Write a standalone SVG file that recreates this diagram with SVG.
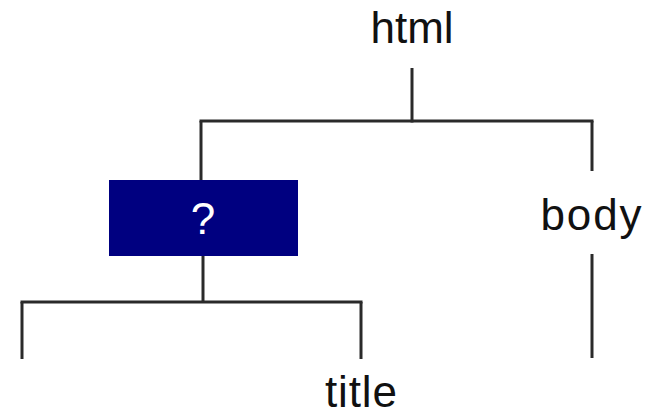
<svg xmlns="http://www.w3.org/2000/svg" width="649" height="411" viewBox="0 0 649 411">
<style>
.lbl{font-family:"Liberation Sans",Arial,Helvetica,sans-serif;font-size:44px;fill:#111;text-anchor:middle}
.c line{stroke:#2a2a2a;stroke-width:3;stroke-linecap:butt}
</style>
<rect width="649" height="411" fill="#fff"/>
<g class="c" id="connectors">
<line x1="412" y1="68" x2="412" y2="122.5"/>
<line x1="199.5" y1="121" x2="593.5" y2="121"/>
<line x1="201" y1="121" x2="201" y2="181"/>
<line x1="592" y1="121" x2="592" y2="171"/>
<line x1="203" y1="256" x2="203" y2="302"/>
<line x1="20.5" y1="302" x2="362.5" y2="302"/>
<line x1="22" y1="302" x2="22" y2="359"/>
<line x1="361" y1="302" x2="361" y2="359"/>
<line x1="592" y1="254" x2="592" y2="358"/>
</g>
<g id="html"><text class="lbl" x="412" y="43">html</text></g>
<g id="unknown"><rect x="109" y="180" width="189" height="76" fill="#000080"/><text class="lbl" x="203" y="234" style="fill:#fff">?</text></g>
<g id="body"><text class="lbl" x="591" y="230" textLength="101">body</text></g>
<g id="title"><text class="lbl" x="361" y="407" textLength="72">title</text></g>
</svg>
